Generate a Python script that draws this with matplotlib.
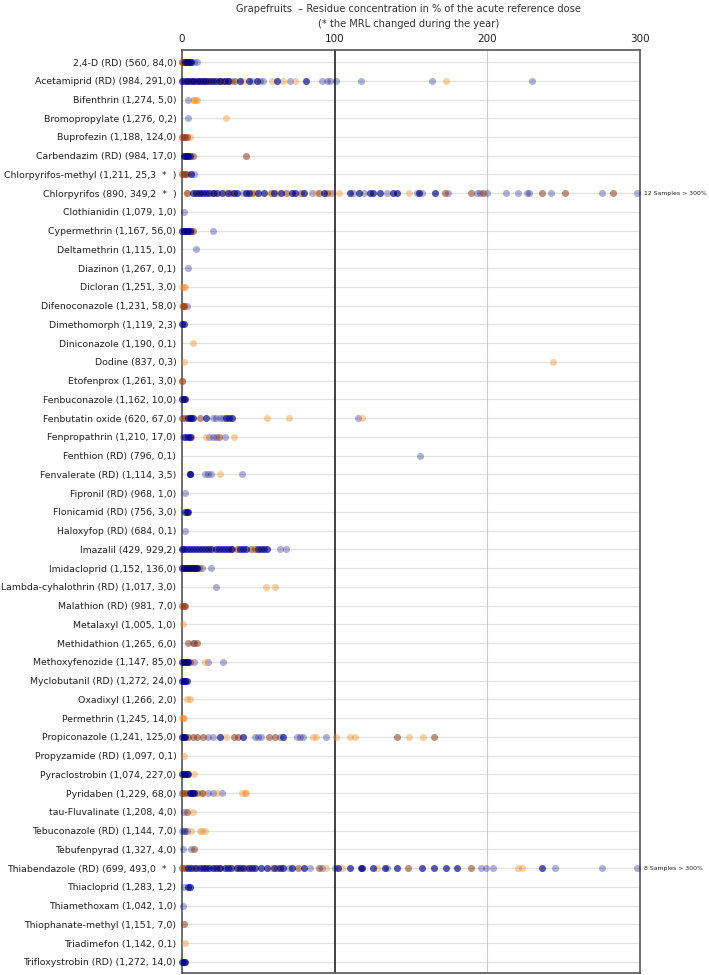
import numpy as np
import matplotlib
matplotlib.use("Agg")
import matplotlib.pyplot as plt

# Residue concentration in % of the acute reference dose, grapefruits

labels = [
    "2,4-D (RD) (560, 84,0)", "Acetamiprid (RD) (984, 291,0)", "Bifenthrin (1,274, 5,0)",
    "Bromopropylate (1,276, 0,2)", "Buprofezin (1,188, 124,0)", "Carbendazim (RD) (984, 17,0)",
    "Chlorpyrifos-methyl (1,211, 25,3  *  )", "Chlorpyrifos (890, 349,2  *  )",
    "Clothianidin (1,079, 1,0)", "Cypermethrin (1,167, 56,0)", "Deltamethrin (1,115, 1,0)",
    "Diazinon (1,267, 0,1)", "Dicloran (1,251, 3,0)", "Difenoconazole (1,231, 58,0)",
    "Dimethomorph (1,119, 2,3)", "Diniconazole (1,190, 0,1)", "Dodine (837, 0,3)",
    "Etofenprox (1,261, 3,0)", "Fenbuconazole (1,162, 10,0)", "Fenbutatin oxide (620, 67,0)",
    "Fenpropathrin (1,210, 17,0)", "Fenthion (RD) (796, 0,1)", "Fenvalerate (RD) (1,114, 3,5)",
    "Fipronil (RD) (968, 1,0)", "Flonicamid (RD) (756, 3,0)", "Haloxyfop (RD) (684, 0,1)",
    "Imazalil (429, 929,2)", "Imidacloprid (1,152, 136,0)", "Lambda-cyhalothrin (RD) (1,017, 3,0)",
    "Malathion (RD) (981, 7,0)", "Metalaxyl (1,005, 1,0)", "Methidathion (1,265, 6,0)",
    "Methoxyfenozide (1,147, 85,0)", "Myclobutanil (RD) (1,272, 24,0)", "Oxadixyl (1,266, 2,0)",
    "Permethrin (1,245, 14,0)", "Propiconazole (1,241, 125,0)", "Propyzamide (RD) (1,097, 0,1)",
    "Pyraclostrobin (1,074, 227,0)", "Pyridaben (1,229, 68,0)", "tau-Fluvalinate (1,208, 4,0)",
    "Tebuconazole (RD) (1,144, 7,0)", "Tebufenpyrad (1,327, 4,0)",
    "Thiabendazole (RD) (699, 493,0  *  )", "Thiacloprid (1,283, 1,2)", "Thiamethoxam (1,042, 1,0)",
    "Thiophanate-methyl (1,151, 7,0)", "Triadimefon (1,142, 0,1)", "Trifloxystrobin (RD) (1,272, 14,0)",
]

# dark blue samples
navy_vals = [
    [2, 3, 4, 5, 6],
    [0, 2, 4, 6, 8, 10, 12, 14, 16, 18, 20, 22, 25, 28, 30, 38, 44, 49, 62, 81],
    [], [], [],
    [1, 2, 3, 4, 5],
    [6],
    [7, 9, 12, 14, 16, 18, 20, 23, 26, 30, 34, 36, 42, 44, 50, 54, 60, 65, 72, 74, 80, 93,
     110, 116, 123, 125, 130, 138, 141, 155, 166],
    [],
    [0, 1, 2, 3, 4, 5],
    [], [], [], [],
    [0, 1],
    [], [], [],
    [0, 1, 2],
    [4, 5, 6, 7, 16, 29, 31, 33],
    [2, 4, 5],
    [],
    [5, 5.5],
    [],
    [2, 3, 4],
    [],
    [0, 1, 3, 5, 7, 9, 11, 13, 15, 17, 19, 22, 24, 26, 28, 30, 32, 38, 40, 42, 50, 52, 54, 56],
    [0, 1, 2, 3, 4, 5, 6, 7, 8, 9, 10],
    [],
    [],
    [], [], [0, 1, 2, 3, 4],
    [0, 1, 2, 3],
    [], [],
    [0, 1, 2, 25, 40, 66],
    [],
    [0, 1, 2, 3, 4],
    [5, 6, 7, 8],
    [],
    [],
    [],
    [4, 6, 9, 12, 14, 16, 18, 20, 22, 25, 28, 30, 32, 36, 38, 40, 44, 46, 48, 52, 56, 60, 64, 66,
     72, 80, 102, 110, 117, 118, 125, 133, 141, 157, 165, 173, 180, 236],
    [4, 5],
    [], [], [],
    [0, 1, 2],
]

# light blue samples
blue_vals = [
    [8, 10],
    [33, 46, 51, 53, 71, 92, 95, 97, 101, 117, 164, 229],
    [4], [4], [],
    [],
    [8],
    [40, 85, 98, 112, 119, 134, 154, 157, 174, 193, 195, 200, 212, 220, 226, 227, 242, 275, 298],
    [1],
    [20],
    [9], [4], [], [3], [], [], [], [], [],
    [20, 22, 25, 27, 115],
    [0.5, 18, 20, 22, 28],
    [156],
    [15, 17, 19, 39],
    [2],
    [],
    [2],
    [64, 68],
    [13, 19],
    [22],
    [], [], [7],
    [8, 17, 27],
    [], [], [],
    [17, 20, 48, 50, 52, 64, 75, 77, 79, 94],
    [], [],
    [17, 20, 26],
    [1],
    [0, 1, 2, 3],
    [0.5, 6],
    [70, 84, 92, 100, 134, 196, 199, 204, 244, 275, 298],
    [1],
    [0.5],
    [], [], [],
]

# orange samples
orange_vals = [
    [0, 1],
    [5, 13, 26, 40, 59, 66, 74, 173],
    [7, 8, 9, 10], [29], [5],
    [], [], [3, 10, 28, 48, 62, 88, 97, 103, 149],
    [], [], [], [], [0, 1, 2], [0, 1, 2], [], [7], [1, 243], [0], [],
    [56, 70, 118],
    [16, 34],
    [],
    [25],
    [], [], [],
    [0, 20],
    [],
    [55, 61],
    [], [0.5], [],
    [15],
    [], [3, 5], [0, 0.5, 1],
    [29, 86, 88, 101, 110, 113, 149, 158],
    [1],
    [8],
    [14, 23, 39, 41, 42],
    [7],
    [6, 12, 13, 15],
    [],
    [2, 15, 35, 58, 94, 105, 128, 220, 223],
    [], [], [],
    [2],
    [],
]

# brown samples
brown_vals = [
    [0, 1, 2],
    [3, 7, 11, 15, 19, 24, 27, 31, 35],
    [], [], [0, 1, 2, 3],
    [7, 42],
    [0, 1, 2, 3],
    [3, 11, 21, 32, 46, 58, 68, 78, 90, 95, 172, 189, 197, 236, 251, 282],
    [], [6, 7], [], [], [], [0.5, 1.5], [], [], [], [0], [],
    [0, 2, 12],
    [6, 24],
    [], [], [], [], [],
    [33, 36, 45, 48],
    [11],
    [],
    [0, 1, 2],
    [], [4, 8, 10],
    [5],
    [], [], [],
    [4, 7, 10, 14, 34, 37, 57, 61, 141, 165],
    [], [],
    [0, 1, 3, 10, 13],
    [3],
    [],
    [8],
    [0, 2, 8, 24, 42, 62, 76, 90, 148, 189],
    [], [],
    [1],
    [], [],
]

over_rows = [7, 43]
over_text = ["12 Samples > 300%", "8 Samples > 300%"]

fig = plt.figure(figsize=(7.09, 9.75), dpi=100)
ax = fig.add_axes([0.2567, 0.002, 0.646, 0.9467])

styles = [
    (blue_vals, "#000080", 0.3),
    (orange_vals, "#F28C28", 0.4),
    (brown_vals, "#8B3A1A", 0.55),
    (navy_vals, "#000080", 0.65),
]
for vals, col, a in styles:
    for i, row in enumerate(vals):
        if len(row) == 0:
            continue
        ax.scatter(row, np.full(len(row), i), s=26, color=col, alpha=a,
                   linewidths=0, zorder=3, clip_on=False)

n = len(labels)
ax.set_xlim(0, 300)
ax.set_ylim(n - 0.4, -0.64)
ax.set_yticks(range(n))
ax.set_yticklabels(labels, fontsize=6.75, color="#222222")
ax.set_xticks([0, 100, 200, 300])
ax.xaxis.tick_top()
ax.tick_params(axis="x", length=0, pad=4, labelsize=7.5, colors="#222222")
ax.tick_params(axis="y", length=0, pad=4)

for i in range(n):
    ax.axhline(i, color="#e2e2e2", lw=0.9, zorder=1)
ax.axvline(100, color="#333333", lw=1.3, zorder=2)
ax.axvline(200, color="#cccccc", lw=0.8, zorder=1)
for sp in ax.spines.values():
    sp.set_color("#555555")
    sp.set_linewidth(1.2)

for r, t in zip(over_rows, over_text):
    ax.text(302.5, r, t, fontsize=4.4, va="center", ha="left", color="#222222")

fig.text(0.576, 0.9955, "Grapefruits  \u2013 Residue concentration in % of the acute reference dose",
         ha="center", va="top", fontsize=7.1, color="#333333")
fig.text(0.576, 0.981, "(* the MRL changed during the year)",
         ha="center", va="top", fontsize=7.1, color="#333333")

fig.savefig("out.png", dpi=100)
